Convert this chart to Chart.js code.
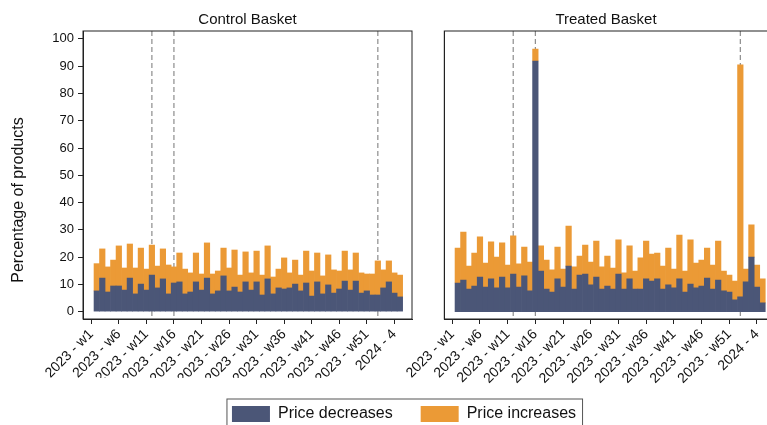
<!DOCTYPE html>
<html>
<head>
<meta charset="utf-8">
<script src="https://cdn.jsdelivr.net/npm/chart.js@4.4.0/dist/chart.umd.min.js"></script>
<style>
  html, body { margin:0; padding:0; background:#fff; overflow:hidden; }
  #wrap { position:relative; width:767px; height:425px; overflow:hidden; background:#fff; }
  #ctrl { position:absolute; left:0; top:-32px; }
  #trt { position:absolute; left:380px; top:-32px; }
</style>
</head>
<body>
<div id="wrap">
  <canvas id="ctrl" width="808" height="464"></canvas>
  <canvas id="trt" width="400" height="464"></canvas>
</div>
<script>
/* DATA */
var weeks = [2,3,4,5,6,7,8,9,10,11,12,13,14,15,16,17,18,19,20,21,22,23,24,25,26,27,28,29,
             30,31,32,33,34,35,36,37,38,39,40,41,42,43,44,45,46,47,48,49,50,51,52,53,54,55,56,57];
var tickValues = [1,6,11,16,21,26,31,36,41,46,51,56];
var tickLabels = ['2023 - w1','2023 - w6','2023 - w11','2023 - w16','2023 - w21','2023 - w26',
                  '2023 - w31','2023 - w36','2023 - w41','2023 - w46','2023 - w51','2024 - 4'];
var yTicks = [0,10,20,30,40,50,60,70,80,90,100];
var markerWeeks = [12,16,53];

var controlDecreases = [7.6,12.3,7.2,9.4,9.4,7.9,12.3,6.5,10.1,7.9,13.4,8.7,12.0,6.5,10.5,10.9,6.5,7.2,10.9,7.9,
                        12.3,6.5,7.6,13.1,7.6,9.0,7.2,10.9,7.9,10.9,6.1,12.0,6.5,8.7,8.3,8.7,10.1,7.6,10.5,5.7,
                        10.9,6.5,9.8,6.8,8.3,11.2,7.9,11.2,6.8,7.6,6.1,6.1,8.7,10.9,6.8,5.4];
var controlIncreases = [10.0,10.7,9.2,9.5,14.7,8.1,12.5,9.5,13.2,7.7,11.0,8.0,11.0,10.6,5.9,10.6,9.1,7.0,10.6,5.9,
                        12.9,7.3,7.3,10.2,8.4,13.6,6.2,11.0,6.3,11.3,7.3,12.1,6.2,6.9,11.4,5.5,8.8,5.8,11.7,9.2,
                        10.6,6.6,11.0,8.5,6.6,11.0,7.4,10.3,7.4,6.2,7.7,12.5,6.6,7.7,7.4,8.0];
var treatedDecreases = [10.5,11.6,8.3,9.4,12.7,9.0,12.0,8.7,12.7,8.7,13.8,9.0,13.1,7.6,91.9,14.9,8.3,7.2,12.0,9.0,
                        16.7,8.3,13.4,13.8,9.8,12.7,8.3,9.4,8.3,13.8,8.3,12.0,8.3,8.3,12.0,11.2,12.0,8.3,9.8,8.7,
                        12.0,7.2,10.1,8.7,9.4,12.3,8.3,11.6,7.6,7.2,4.3,5.4,10.9,20.0,9.0,3.2];
var treatedIncreases = [12.8,17.6,8.4,12.1,14.7,8.8,13.6,11.3,12.5,8.4,14.0,8.5,10.6,10.6,4.4,9.2,10.6,8.1,11.7,6.6,
                        14.7,8.1,7.0,10.6,8.4,13.2,8.1,11.0,7.7,12.5,5.9,12.1,6.6,11.4,13.9,9.9,9.5,8.4,13.5,6.9,
                        16.1,7.7,16.2,9.1,9.5,11.0,8.8,14.3,7.3,6.2,6.9,85.1,4.7,11.8,8.1,8.8];

Chart.defaults.font.family = "'Liberation Sans', Arial, sans-serif";
Chart.defaults.color = '#111';

/* frame round the plot, dashed event lines, legend box */
var framePlugin = {
  id: 'frame',
  beforeDatasetsDraw: function(chart) {
    var a = chart.chartArea, xs = chart.scales.x, ctx = chart.ctx;
    ctx.save();
    ctx.strokeStyle = '#8c8c8c';
    ctx.lineWidth = 1.2;
    ctx.setLineDash([5, 3]);
    markerWeeks.forEach(function(w) {
      var px = xs.getPixelForValue(w);
      ctx.beginPath();
      ctx.moveTo(px, a.top);
      ctx.lineTo(px, a.bottom);
      ctx.stroke();
    });
    ctx.restore();
  },
  afterDraw: function(chart) {
    var a = chart.chartArea, ctx = chart.ctx;
    ctx.save();
    ctx.strokeStyle = '#222';
    ctx.lineWidth = 1;
    ctx.strokeRect(a.left, a.top, a.right - a.left, a.bottom - a.top);
    if (chart.options.plugins.legend.display) {
      var hb = chart.legend.legendHitBoxes;
      var l = hb[0].left - 5, r = hb[hb.length - 1].left + hb[hb.length - 1].width + 6.5;
      var t = hb[0].top - 7;
      ctx.strokeStyle = '#555';
      ctx.strokeRect(l, t, r - l, chart.height - t + 5);
    }
    ctx.restore();
  }
};

function makePanel(id, title, dec, inc, cfg) {
  var scales = {
    x: {
      type: 'linear', stacked: true, offset: false, min: cfg.xMin, max: cfg.xMax,
      afterBuildTicks: function(s) { s.ticks = tickValues.map(function(v) { return {value: v}; }); },
      afterFit: function(s) { s.height = cfg.xHeight; },
      ticks: {
        autoSkip: false, minRotation: 45, maxRotation: 45, padding: 2,
        font: {size: 14}, color: '#111',
        callback: function(v) { return tickLabels[tickValues.indexOf(v)]; }
      },
      grid: { drawOnChartArea: false, tickLength: 5, color: '#222', offset: false },
      border: { color: '#222' }
    },
    y: {
      stacked: true, min: -2.7, max: 102.9,
      afterBuildTicks: function(s) { s.ticks = yTicks.map(function(v) { return {value: v}; }); },
      afterFit: function(s) { s.width = cfg.yWidth; },
      ticks: { display: cfg.showY, font: {size: 13}, color: '#111', padding: 4 },
      grid: { display: cfg.showY, drawOnChartArea: false, tickLength: 5, color: '#222' },
      border: { display: true, color: '#222' }
    }
  };
  if (cfg.rightGap) {
    scales.yR = {
      type: 'linear', position: 'right', display: true,
      ticks: { display: false }, grid: { display: false }, border: { display: false },
      afterFit: function(s) { s.width = cfg.rightGap; }
    };
  }
  return new Chart(document.getElementById(id).getContext('2d'), {
    type: 'bar',
    data: {
      labels: weeks,
      datasets: [
        { label: 'Price decreases', data: dec, backgroundColor: '#4b5677', borderWidth: 0,
          barPercentage: 1, categoryPercentage: 1 },
        { label: 'Price increases', data: inc, backgroundColor: '#eb9a36', borderWidth: 0,
          barPercentage: 1, categoryPercentage: 1 }
      ]
    },
    options: {
      responsive: false,
      animation: false,
      devicePixelRatio: 1,
      layout: { padding: { right: cfg.padRight || 0 } },
      scales: scales,
      plugins: {
        tooltip: { enabled: false },
        title: {
          display: true, text: title, fullSize: false, color: '#111',
          font: {size: 15, weight: 'normal'}, padding: {top: 43, bottom: 2}
        },
        subtitle: {
          display: cfg.showY, position: 'left', text: 'Percentage of products', color: '#111',
          font: {size: 16, weight: 'normal'}, padding: {top: 9.4, bottom: 0}
        },
        legend: {
          display: cfg.showLegend, position: 'bottom',
          labels: { boxWidth: 38, boxHeight: 16, padding: 28, color: '#111', font: {size: 16} }
        }
      }
    },
    plugins: [framePlugin]
  });
}

makePanel('ctrl', 'Control Basket', controlDecreases, controlIncreases,
  { xMin: -0.5, xMax: 59.2, xHeight: 59, yWidth: 54.4, showY: true, showLegend: true, rightGap: 396 });
makePanel('trt', 'Treated Basket', treatedDecreases, treatedIncreases,
  { xMin: -0.44, xMax: 57.94, xHeight: 113, yWidth: 64.3, showY: false, showLegend: false, padRight: 12.3 });
</script>
</body>
</html>
